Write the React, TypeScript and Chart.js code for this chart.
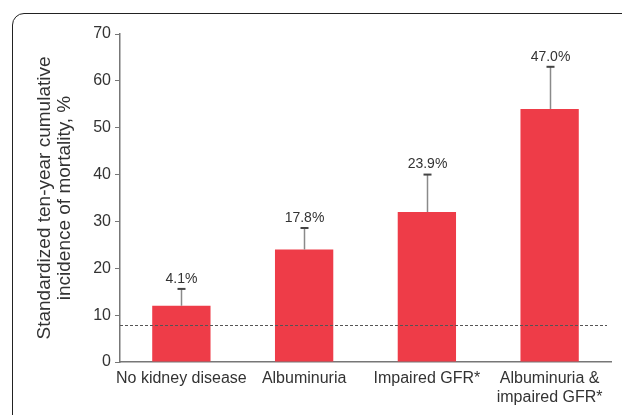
import { useEffect, useRef } from 'react';
import { Chart, registerables } from 'chart.js';

Chart.register(...registerables);

const categories: string[][] = [
  ['No kidney disease'],
  ['Albuminuria'],
  ['Impaired GFR*'],
  ['Albuminuria &', 'impaired GFR*'],
];
const values = [12, 24, 32, 54];
const errorUpper = [15.6, 28.6, 40, 63];
const barLabels = ['4.1%', '17.8%', '23.9%', '47.0%'];
const referenceLine = 8;
const yTitle = ['Standardized ten-year cumulative', 'incidence of mortality, %'];
const yMin = 0;
const yMax = 70;
const yStep = 10;

const FONT = '"Liberation Sans", Arial, Helvetica, sans-serif';
const BAR_COLOR = '#EE3C48';
const TEXT_COLOR = '#333333';

const overlayPlugin = {
  id: 'overlay',
  afterDatasetsDraw(chart: any) {
    const { ctx, chartArea, scales } = chart;
    const y = scales.y;
    const meta = chart.getDatasetMeta(0);
    ctx.save();
    // dashed reference line
    const yRef = y.getPixelForValue(referenceLine);
    ctx.setLineDash([3, 2]);
    ctx.strokeStyle = '#555555';
    ctx.lineWidth = 1;
    ctx.beginPath();
    ctx.moveTo(chartArea.left, Math.round(yRef) + 0.5);
    ctx.lineTo(chartArea.right - 4, Math.round(yRef) + 0.5);
    ctx.stroke();
    ctx.setLineDash([]);
    meta.data.forEach((bar: any, i: number) => {
      const xc = Math.round(bar.x) + 0.5;
      const top = y.getPixelForValue(values[i]);
      const up = y.getPixelForValue(errorUpper[i]);
      ctx.strokeStyle = '#8a8a8a';
      ctx.lineWidth = 1.5;
      ctx.beginPath();
      ctx.moveTo(xc, top);
      ctx.lineTo(xc, up);
      ctx.stroke();
      ctx.strokeStyle = '#444444';
      ctx.lineWidth = 2;
      ctx.beginPath();
      ctx.moveTo(xc - 4, up);
      ctx.lineTo(xc + 4, up);
      ctx.stroke();
      ctx.fillStyle = TEXT_COLOR;
      ctx.font = `14px ${FONT}`;
      ctx.textAlign = 'center';
      ctx.textBaseline = 'bottom';
      ctx.fillText(barLabels[i], xc, up - 3);
    });
    ctx.restore();
  },
};

export default function App() {
  const canvasRef = useRef<HTMLCanvasElement | null>(null);

  useEffect(() => {
    if (!canvasRef.current) return;
    const chart = new Chart(canvasRef.current, {
      type: 'bar',
      data: {
        labels: categories,
        datasets: [
          {
            data: values,
            backgroundColor: BAR_COLOR,
            borderWidth: 0,
            barPercentage: 0.475,
            categoryPercentage: 1,
          },
        ],
      },
      plugins: [overlayPlugin],
      options: {
        responsive: false,
        animation: false,
        layout: { padding: { top: 34, right: 11, left: 0, bottom: 0 } },
        plugins: {
          legend: { display: false },
          tooltip: { enabled: false },
        },
        scales: {
          x: {
            grid: { display: false, drawTicks: false },
            border: { display: true, color: '#777777', width: 1.5 },
            ticks: {
              color: TEXT_COLOR,
              font: { family: FONT, size: 16, lineHeight: 1.2 },
              padding: 7,
              maxRotation: 0,
              autoSkip: false,
            },
            afterFit(scale: any) {
              scale.height = 53;
            },
          },
          y: {
            min: yMin,
            max: yMax,
            grid: { display: true, drawOnChartArea: false, drawTicks: true, tickLength: 5, color: '#777777' },
            border: { display: true, color: '#777777', width: 1.5 },
            ticks: {
              stepSize: yStep,
              color: TEXT_COLOR,
              font: { family: FONT, size: 16 },
              padding: 4,
            },
            title: {
              display: true,
              text: yTitle,
              color: TEXT_COLOR,
              font: { family: FONT, size: 19, lineHeight: 1.05 },
              padding: { top: 35, bottom: 0 },
            },
            afterFit(scale: any) {
              scale.width = 120;
            },
          },
        },
      },
    });
    return () => chart.destroy();
  }, []);

  return (
    <div
      style={{
        position: 'absolute',
        left: 0,
        top: 0,
        width: 622,
        height: 415,
        overflow: 'hidden',
        background: '#ffffff',
      }}
    >
      <div
        style={{
          position: 'absolute',
          left: 12,
          top: 13,
          width: 660,
          height: 460,
          border: '1.5px solid #222222',
          borderRadius: 12,
          boxSizing: 'border-box',
        }}
      />
      <canvas
        ref={canvasRef}
        width={622}
        height={415}
        style={{ position: 'absolute', left: 0, top: 0, width: 622, height: 415 }}
      />
    </div>
  );
}
